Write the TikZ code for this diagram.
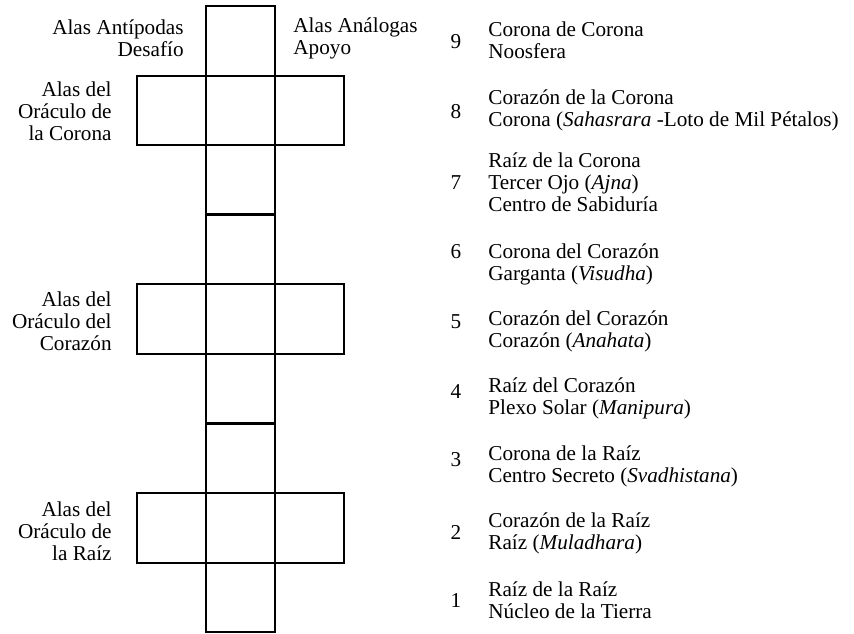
\documentclass[tikz,border=0pt]{standalone}
\usepackage{fontspec}
\setmainfont{Liberation Serif}
\usetikzlibrary{positioning}

\begin{document}
\begin{tikzpicture}[x=0.5pt,y=-0.5pt,
    cell/.style={draw,line width=1pt,minimum width=34.5pt,minimum height=34.8pt,inner sep=0pt,outer sep=0pt},
    txt/.style={font=\fontsize{10.6}{11}\selectfont,inner sep=0pt}]

\useasboundingbox (0,0) rectangle (854,633);

% Central column
\node[cell] (c9) at (240.5,40.8) {};
\node[cell] (c8) at (240.5,110.4) {};
\node[cell] (c7) at (240.5,180) {};
\node[cell] (c6) at (240.5,249.6) {};
\node[cell] (c5) at (240.5,319.2) {};
\node[cell] (c4) at (240.5,388.8) {};
\node[cell] (c3) at (240.5,458.4) {};
\node[cell] (c2) at (240.5,528) {};
\node[cell] (c1) at (240.5,597.6) {};

% Wings
\node[cell,left=0pt of c8] (l8) {};
\node[cell,right=0pt of c8] (r8) {};
\node[cell,left=0pt of c5] (l5) {};
\node[cell,right=0pt of c5] (r5) {};
\node[cell,left=0pt of c2] (l2) {};
\node[cell,right=0pt of c2] (r2) {};

% Thick separations
\draw[line width=1.5pt] (c7.south west) -- (c7.south east);
\draw[line width=1.5pt] (c4.south west) -- (c4.south east);

% Top labels
\node[txt,align=right,anchor=east] (antipodas) at (184,38) {Alas Antípodas\\Desafío};
\node[txt,align=left,anchor=west] (analogas) at (293,38) {Alas Análogas\\Apoyo};

% Oracle labels
\node[txt,align=right,anchor=east] (ocorona) at (112,111) {Alas del\\Oráculo de\\la Corona};
\node[txt,align=right,anchor=east] (ocorazon) at (112,321) {Alas del\\Oráculo del\\Corazón};
\node[txt,align=right,anchor=east] (oraiz) at (112,531) {Alas del\\Oráculo de\\la Raíz};

% Numbers
\node[txt] (n9) at (456,42) {9};
\node[txt] (n8) at (456,112) {8};
\node[txt] (n7) at (456,183) {7};
\node[txt] (n6) at (456,252) {6};
\node[txt] (n5) at (456,322) {5};
\node[txt] (n4) at (456,392) {4};
\node[txt] (n3) at (456,460) {3};
\node[txt] (n2) at (456,532) {2};
\node[txt] (n1) at (456,600) {1};

% Descriptions
\node[txt,align=left,anchor=west] (d9) at (488,40) {Corona de Corona\\Noosfera};
\node[txt,align=left,anchor=west] (d8) at (488,110) {Corazón de la Corona\\Corona (\textit{Sahasrara} -Loto de Mil Pétalos)};
\node[txt,align=left,anchor=west] (d7) at (488,182) {Raíz de la Corona\\Tercer Ojo (\textit{Ajna})\\Centro de Sabiduría};
\node[txt,align=left,anchor=west] (d6) at (488,264) {Corona del Corazón\\Garganta (\textit{Visudha})};
\node[txt,align=left,anchor=west] (d5) at (488,331) {Corazón del Corazón\\Corazón (\textit{Anahata})};
\node[txt,align=left,anchor=west] (d4) at (488,398) {Raíz del Corazón\\Plexo Solar (\textit{Manipura})};
\node[txt,align=left,anchor=west] (d3) at (488,466) {Corona de la Raíz\\Centro Secreto (\textit{Svadhistana})};
\node[txt,align=left,anchor=west] (d2) at (488,533) {Corazón de la Raíz\\Raíz (\textit{Muladhara})};
\node[txt,align=left,anchor=west] (d1) at (488,600) {Raíz de la Raíz\\Núcleo de la Tierra};

\end{tikzpicture}
\end{document}
